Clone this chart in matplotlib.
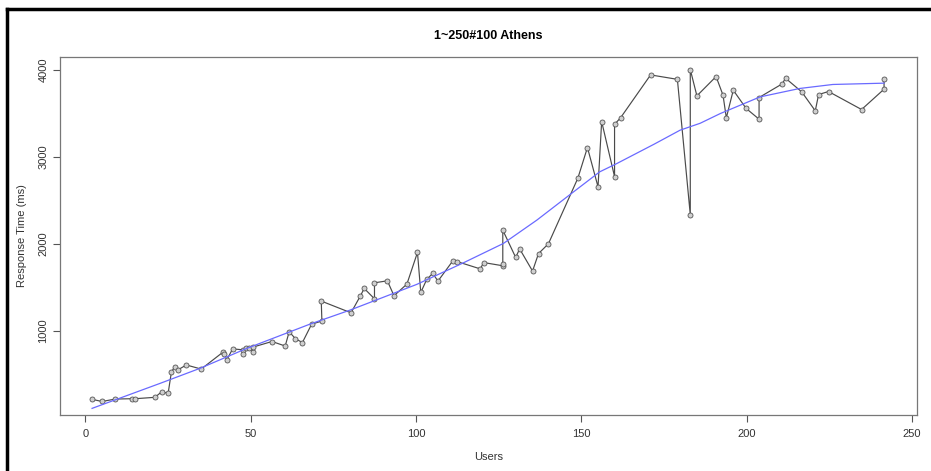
import numpy as np
import matplotlib
matplotlib.use("Agg")
import matplotlib.pyplot as plt
from matplotlib.lines import Line2D

plt.rcParams['font.family'] = ['Liberation Sans', 'DejaVu Sans']

# measured response times, in the order they were plotted
users = [2, 5, 9, 14, 15, 21, 23, 25, 26, 27, 28, 30.5, 35,
         41.5, 42, 42.7, 44.5, 47.5, 47.7, 48.5, 49.5, 50.6, 50.6,
         56.4, 60.4, 61.6, 63.5, 65.6, 68.4, 71.5, 71.3, 80.3, 83.1,
         84.3, 87.4, 87.4, 91.3, 93.3, 97.2, 100.4, 101.4, 103.2, 105,
         106.6, 111.1, 112.3, 119.4, 120.4, 126.2, 126.2, 126.2, 130.1,
         131.3, 135.2, 137, 140, 148.9, 151.8, 155, 156.1, 160, 160,
         161.8, 170.9, 179, 182.9, 182.9, 184.9, 190.7, 192.8, 193.8,
         195.9, 199.8, 203.7, 203.7, 210.7, 211.7, 216.6, 220.7, 221.7,
         224.7, 234.7, 241.5, 241.5]
resp_ms = [215, 190, 218, 222, 222, 238, 300, 285, 532, 588, 555, 610, 563,
           755, 740, 665, 795, 785, 738, 800, 805, 755, 815,
           880, 828, 992, 912, 868, 1080, 1115, 1345, 1210, 1402,
           1490, 1371, 1555, 1578, 1406, 1540, 1904, 1444, 1594, 1663,
           1575, 1808, 1800, 1715, 1788, 1751, 1770, 2161, 1847,
           1945, 1690, 1891, 2004, 2758, 3111, 2659, 3410, 2776, 3378,
           3452, 3946, 3895, 2339, 4008, 3705, 3927, 3713, 3452,
           3770, 3560, 3437, 3686, 3843, 3908, 3751, 3533, 3720,
           3755, 3548, 3782, 3897]

# smoothed trend
fit_users = [2, 22.6, 34.6, 48.8, 67.9, 80, 100.2, 114.3, 126.4, 136.5,
             147.6, 155.5, 160.7, 172, 179.8, 185.9, 192, 204, 216, 226, 241.5]
fit_ms = [111, 399, 571, 801, 1080, 1241, 1537, 1785, 2008, 2276,
          2601, 2831, 2927, 3150, 3310, 3390, 3502, 3693, 3790, 3836, 3851]

xticks = [0, 50, 100, 150, 200, 250]
yticks = [1000, 2000, 3000, 4000]

fig = plt.figure(figsize=(9.31, 4.71), dpi=100)
ax = fig.add_axes([0.0641, 0.1195, 0.921, 0.7595])

ax.plot(users, resp_ms, '-', color='#4a4a4a', lw=0.85, marker='o', ms=3.6,
        mfc='#cfcfcf', mec='#555555', mew=0.6)
ax.plot(fit_users, fit_ms, '-', color='#6a6aff', lw=0.9)

ax.set_xlim(-7.8, 251.5)
ax.set_ylim(38, 4152)
ax.set_xticks(xticks)
ax.set_yticks(yticks)
ax.set_yticklabels([str(t) for t in yticks], rotation=90, va='center')
ax.tick_params(direction='out', length=5, width=0.8, color='#555555',
               labelsize=8, labelcolor='#333333')
ax.tick_params(axis='x', pad=5)
ax.tick_params(axis='y', pad=3)
for s in ax.spines.values():
    s.set_color('#777777')
    s.set_linewidth(0.9)

ax.set_title('1~250#100 Athens', fontsize=9, fontweight='bold', pad=13)
ax.set_xlabel('Users', fontsize=8, color='#333333', labelpad=10)
ax.set_ylabel('Response Time (ms)', fontsize=8, color='#333333', labelpad=8)

# dark frame around the panel
fig.add_artist(Line2D([7 / 931, 7 / 931], [0, 1 - 9 / 471], transform=fig.transFigure,
                      color='black', lw=2.5))
fig.add_artist(Line2D([7 / 931, 1], [1 - 9 / 471, 1 - 9 / 471], transform=fig.transFigure,
                      color='black', lw=2.5))

fig.savefig('out.png', dpi=100)
